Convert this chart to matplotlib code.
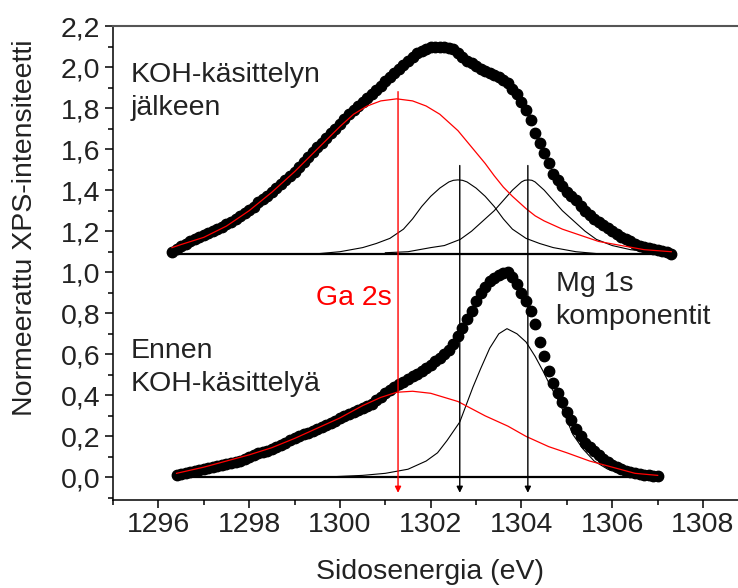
import matplotlib
matplotlib.use('Agg')
import matplotlib.pyplot as plt
from matplotlib.ticker import MultipleLocator, FuncFormatter

plt.rcParams['font.family'] = ['Liberation Sans', 'DejaVu Sans']

# measured spectrum after KOH treatment (sits on a baseline of ~1.09)
after_x = [1296.3, 1296.4, 1296.5, 1296.6, 1296.7, 1296.8, 1296.9, 1297.0, 1297.1, 1297.2,
           1297.3, 1297.4, 1297.5, 1297.6, 1297.7, 1297.8, 1297.9, 1298.0, 1298.1, 1298.2,
           1298.3, 1298.4, 1298.5, 1298.6, 1298.7, 1298.8, 1298.9, 1299.0, 1299.1, 1299.2,
           1299.3, 1299.4, 1299.5, 1299.6, 1299.7, 1299.8, 1299.9, 1300.0, 1300.1, 1300.2,
           1300.3, 1300.4, 1300.5, 1300.6, 1300.7, 1300.8, 1300.9, 1301.0, 1301.1, 1301.2,
           1301.3, 1301.4, 1301.5, 1301.6, 1301.7, 1301.8, 1301.9, 1302.0, 1302.1, 1302.2,
           1302.3, 1302.4, 1302.5, 1302.6, 1302.7, 1302.8, 1302.9, 1303.0, 1303.1, 1303.2,
           1303.3, 1303.4, 1303.5, 1303.6, 1303.7, 1303.8, 1303.9, 1304.0, 1304.1, 1304.2,
           1304.3, 1304.4, 1304.5, 1304.6, 1304.7, 1304.8, 1304.9, 1305.0, 1305.1, 1305.2,
           1305.3, 1305.4, 1305.5, 1305.6, 1305.7, 1305.8, 1305.9, 1306.0, 1306.1, 1306.2,
           1306.3, 1306.4, 1306.5, 1306.6, 1306.7, 1306.8, 1306.9, 1307.0, 1307.1, 1307.2,
           1307.3]
after_y = [1.10, 1.115, 1.13, 1.14, 1.15, 1.16, 1.17, 1.18, 1.19, 1.20,
           1.21, 1.22, 1.235, 1.245, 1.26, 1.275, 1.29, 1.305, 1.32, 1.34,
           1.355, 1.37, 1.39, 1.41, 1.43, 1.45, 1.47, 1.49, 1.515, 1.535,
           1.56, 1.585, 1.61, 1.63, 1.655, 1.68, 1.70, 1.72, 1.745, 1.77,
           1.79, 1.81, 1.83, 1.85, 1.87, 1.89, 1.91, 1.93, 1.95, 1.97,
           1.99, 2.01, 2.03, 2.05, 2.07, 2.08, 2.09, 2.10, 2.10, 2.10,
           2.10, 2.095, 2.09, 2.07, 2.05, 2.03, 2.02, 2.005, 1.99, 1.98,
           1.97, 1.96, 1.95, 1.935, 1.92, 1.895, 1.87, 1.83, 1.79, 1.74,
           1.68, 1.63, 1.58, 1.53, 1.48, 1.45, 1.42, 1.39, 1.37, 1.35,
           1.325, 1.30, 1.28, 1.26, 1.245, 1.23, 1.215, 1.20, 1.185, 1.17,
           1.16, 1.15, 1.14, 1.13, 1.125, 1.12, 1.115, 1.11, 1.105, 1.10,
           1.09]

# measured spectrum before KOH treatment
before_x = [1296.4, 1296.5, 1296.6, 1296.7, 1296.8, 1296.9, 1297.0, 1297.1, 1297.2, 1297.3,
            1297.4, 1297.5, 1297.6, 1297.7, 1297.8, 1297.9, 1298.0, 1298.1, 1298.2, 1298.3,
            1298.4, 1298.5, 1298.6, 1298.7, 1298.8, 1298.9, 1299.0, 1299.1, 1299.2, 1299.3,
            1299.4, 1299.5, 1299.6, 1299.7, 1299.8, 1299.9, 1300.0, 1300.1, 1300.2, 1300.3,
            1300.4, 1300.5, 1300.6, 1300.7, 1300.8, 1300.9, 1301.0, 1301.1, 1301.2, 1301.3,
            1301.4, 1301.5, 1301.6, 1301.7, 1301.8, 1301.9, 1302.0, 1302.1, 1302.2, 1302.3,
            1302.4, 1302.5, 1302.6, 1302.7, 1302.8, 1302.9, 1303.0, 1303.1, 1303.2, 1303.3,
            1303.4, 1303.5, 1303.6, 1303.7, 1303.8, 1303.9, 1304.0, 1304.1, 1304.2, 1304.3,
            1304.4, 1304.5, 1304.6, 1304.7, 1304.8, 1304.9, 1305.0, 1305.1, 1305.2, 1305.3,
            1305.4, 1305.5, 1305.6, 1305.7, 1305.8, 1305.9, 1306.0, 1306.1, 1306.2, 1306.3,
            1306.4, 1306.5, 1306.6, 1306.7, 1306.8, 1306.9, 1307.0]
before_y = [0.01, 0.015, 0.02, 0.025, 0.03, 0.035, 0.04, 0.045, 0.05, 0.055,
            0.06, 0.065, 0.07, 0.075, 0.08, 0.09, 0.10, 0.11, 0.12, 0.125,
            0.13, 0.14, 0.15, 0.16, 0.17, 0.18, 0.19, 0.20, 0.21, 0.215,
            0.225, 0.235, 0.245, 0.255, 0.265, 0.275, 0.29, 0.30, 0.31, 0.32,
            0.33, 0.34, 0.35, 0.36, 0.375, 0.39, 0.41, 0.425, 0.44, 0.455,
            0.465, 0.48, 0.495, 0.505, 0.52, 0.535, 0.55, 0.565, 0.58, 0.60,
            0.62, 0.65, 0.69, 0.73, 0.77, 0.81, 0.86, 0.90, 0.93, 0.955,
            0.97, 0.985, 0.995, 1.00, 0.975, 0.945, 0.90, 0.86, 0.81, 0.75,
            0.66, 0.59, 0.52, 0.46, 0.41, 0.37, 0.32, 0.28, 0.235, 0.20,
            0.17, 0.15, 0.13, 0.11, 0.09, 0.075, 0.06, 0.05, 0.04, 0.03,
            0.025, 0.02, 0.015, 0.01, 0.01, 0.005, 0.005]

# fitted components, after KOH
ga_after_x = [1296.3, 1296.5, 1297.0, 1297.5, 1298.0, 1298.5, 1299.0, 1299.5, 1300.0, 1300.3,
              1300.6, 1300.9, 1301.25, 1301.6, 1301.9, 1302.2, 1302.6, 1302.9, 1303.2, 1303.4,
              1303.6, 1303.8, 1304.1, 1304.3, 1304.5, 1304.9, 1305.3, 1305.7, 1306.2, 1306.7,
              1307.3]
ga_after_y = [1.12, 1.135, 1.17, 1.225, 1.30, 1.39, 1.49, 1.60, 1.71, 1.77,
              1.81, 1.835, 1.845, 1.835, 1.81, 1.77, 1.69, 1.61, 1.53, 1.47,
              1.415, 1.37, 1.31, 1.275, 1.25, 1.21, 1.18, 1.15, 1.13, 1.11,
              1.10]
mg1_after_x = [1299.5, 1300.0, 1300.5, 1300.8, 1301.1, 1301.4, 1301.6, 1301.8, 1302.0, 1302.2,
               1302.4, 1302.5, 1302.6, 1302.7, 1302.8, 1303.0, 1303.2, 1303.4, 1303.6, 1303.8,
               1304.1, 1304.4, 1304.7, 1305.2, 1305.7]
mg1_after_y = [1.09, 1.10, 1.12, 1.14, 1.165, 1.21, 1.26, 1.32, 1.37, 1.41,
               1.44, 1.448, 1.45, 1.448, 1.44, 1.41, 1.37, 1.32, 1.26, 1.21,
               1.165, 1.14, 1.12, 1.10, 1.09]
mg2_after_x = [1301.0, 1301.5, 1302.0, 1302.3, 1302.65, 1302.9, 1303.15, 1303.4, 1303.6, 1303.8,
               1304.0, 1304.07, 1304.15, 1304.23, 1304.3, 1304.5, 1304.7, 1304.9, 1305.15, 1305.4,
               1305.65, 1306.0, 1306.4, 1306.8, 1307.2]
mg2_after_y = [1.095, 1.10, 1.12, 1.13, 1.16, 1.20, 1.25, 1.30, 1.35, 1.40,
               1.44, 1.448, 1.45, 1.448, 1.44, 1.40, 1.35, 1.30, 1.25, 1.20,
               1.16, 1.13, 1.11, 1.10, 1.09]

# fitted components, before KOH
ga_before_x = [1296.4, 1297.0, 1297.5, 1298.0, 1298.5, 1299.0, 1299.5, 1300.0, 1300.5, 1300.9,
               1301.25, 1301.6, 1302.0, 1302.6, 1303.2, 1303.7, 1304.1, 1304.6, 1305.0, 1305.5,
               1306.0, 1306.5, 1307.0]
ga_before_y = [0.02, 0.05, 0.08, 0.11, 0.145, 0.19, 0.24, 0.29, 0.35, 0.39,
               0.415, 0.42, 0.41, 0.37, 0.30, 0.25, 0.20, 0.15, 0.12, 0.08,
               0.05, 0.02, 0.01]
mg_before_x = [1299.5, 1300.5, 1301.0, 1301.5, 1301.9, 1302.15, 1302.36, 1302.64, 1302.93, 1303.1,
               1303.3, 1303.5, 1303.68, 1303.9, 1304.1, 1304.3, 1304.47, 1304.65, 1304.85, 1305.0,
               1305.13, 1305.35, 1305.6, 1305.9, 1306.2, 1306.6, 1307.0]
mg_before_y = [0.0, 0.01, 0.02, 0.04, 0.08, 0.12, 0.18, 0.27, 0.44, 0.53,
               0.63, 0.70, 0.725, 0.70, 0.66, 0.59, 0.52, 0.44, 0.36, 0.28,
               0.21, 0.14, 0.08, 0.04, 0.02, 0.005, 0.0]

# baselines and peak-position markers
baseline_after = (1296.3, 1307.3, 1.09)
baseline_before = (1296.4, 1307.0, 0.0)
ga_pos, ga_top = 1301.28, 1.88
mg_pos = [1302.64, 1304.14]
mg_top = 1.52
arrow_end = -0.075

fig = plt.figure(figsize=(7.38, 5.88), dpi=100)
ax = fig.add_axes([113 / 738, 88 / 588, 625 / 738, 474 / 588])

ax.plot(after_x, after_y, 'o', color='black', markersize=7.5, zorder=3)
ax.plot(before_x, before_y, 'o', color='black', markersize=7.5, zorder=3)

for x0, x1, yb in (baseline_after, baseline_before):
    ax.plot([x0, x1], [yb, yb], color='black', lw=1.6, zorder=2)

ax.plot(mg1_after_x, mg1_after_y, color='black', lw=0.8, zorder=2)
ax.plot(mg2_after_x, mg2_after_y, color='black', lw=0.8, zorder=2)
ax.plot(mg_before_x, mg_before_y, color='black', lw=0.8, zorder=2)
ax.plot(ga_after_x, ga_after_y, color='red', lw=0.9, zorder=4)
ax.plot(ga_before_x, ga_before_y, color='red', lw=0.9, zorder=4)

ax.annotate('', xy=(ga_pos, arrow_end), xytext=(ga_pos, ga_top),
            arrowprops=dict(arrowstyle='-|>', color='red', lw=1.0,
                            mutation_scale=9, shrinkA=0, shrinkB=0), zorder=5)
for xp in mg_pos:
    ax.annotate('', xy=(xp, arrow_end), xytext=(xp, mg_top),
                arrowprops=dict(arrowstyle='-|>', color='black', lw=1.0,
                                mutation_scale=9, shrinkA=0, shrinkB=0), zorder=5)

fs = 20.5
txt = '#222222'
ax.text(1295.38, 1.88, 'KOH-käsittelyn\njälkeen', fontsize=fs, va='center', ha='left',
        linespacing=1.35, color=txt)
ax.text(1295.38, 0.535, 'Ennen\nKOH-käsittelyä', fontsize=fs, va='center', ha='left',
        linespacing=1.35, color=txt)
ax.text(1301.15, 0.875, 'Ga 2s', fontsize=fs, color='red', va='center', ha='right')
ax.text(1304.75, 0.86, 'Mg 1s\nkomponentit', fontsize=fs, va='center', ha='left',
        linespacing=1.35, color=txt)

ax.set_xlim(1295, 1308.77)
ax.set_ylim(-0.11, 2.2)
ax.xaxis.set_major_locator(MultipleLocator(2))
ax.xaxis.set_minor_locator(MultipleLocator(1))
ax.yaxis.set_major_locator(MultipleLocator(0.2))
ax.yaxis.set_minor_locator(MultipleLocator(0.1))
ax.yaxis.set_major_formatter(FuncFormatter(lambda v, p: f'{v:.1f}'.replace('.', ',').replace('-0,0', '0,0')))
ax.tick_params(which='major', direction='out', length=6, width=1.1, labelsize=fs, pad=3,
               labelcolor=txt)
ax.tick_params(which='minor', direction='out', length=3.5, width=1.1)
ax.spines['right'].set_visible(False)
ax.spines['top'].set_color('#555555')
ax.spines['top'].set_linewidth(1.5)
for s in ('left', 'bottom'):
    ax.spines[s].set_linewidth(1.1)

fig.text(25 / 738, 1 - 228 / 588, 'Normeerattu XPS-intensiteetti', rotation=90,
         fontsize=fs, ha='center', va='center', color=txt)
fig.text(430 / 738, 1 - 572 / 588, 'Sidosenergia (eV)', fontsize=fs,
         ha='center', va='center', color=txt)

fig.savefig('out.png', dpi=100)
